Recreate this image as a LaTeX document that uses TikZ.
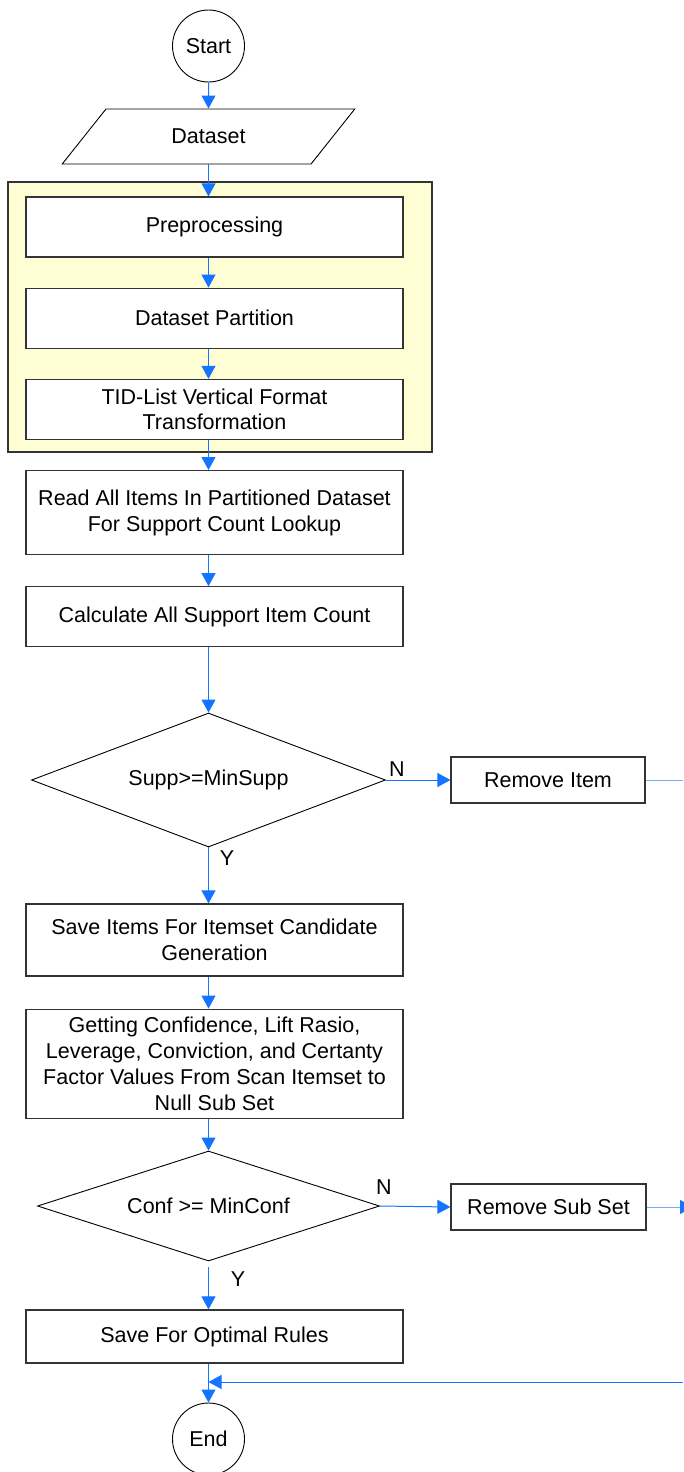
\documentclass[tikz,border=0pt]{standalone}
\usepackage{fontspec}
\setmainfont{Liberation Sans}
\usepackage{xcolor}
\usetikzlibrary{arrows.meta, shapes.geometric, calc, positioning}
\definecolor{flowblue}{RGB}{20,116,255}
\definecolor{flowblue200}{RGB}{120,172,255}
\definecolor{grpyellow}{RGB}{255,253,212}
\definecolor{boxgray}{RGB}{52,52,52}
\tikzset{
  %process box style
  procbox/.style={
    draw=boxgray
    , fill=white
    , line width=1.2pt
    , minimum width=377pt
    , align=center
    , inner sep=2pt
    %, rounded corners
  },
  %start / end
  term/.style={
    circle
    , draw
    , line width=0.9pt
    , minimum size=72pt
    , inner sep=0pt
  },
  decision/.style={
    diamond
    , draw
    , line width=0.9pt
    , inner sep=0pt
  },
}

\begin{document}
\begin{tikzpicture}[x=1pt, y=1pt, font=\fontsize{21.5}{25.8}\selectfont]
  \tikzstyle{io}=[trapezium, draw, line width=0.9pt, trapezium left angle=43.5
                  , trapezium right angle=136.5, trapezium stretches=true
                  , minimum width=293pt, minimum height=55pt, inner sep=0pt]
  \tikzstyle{group}=[draw=boxgray, fill=grpyellow, line width=1.2pt
                     , minimum width=424pt, minimum height=270pt]
  \tikzstyle{flow}=[-{Triangle[length=13pt,width=14pt]}, flowblue, line width=1pt]
  \tikzstyle{lbl}=[inner sep=0pt]
  \useasboundingbox (0,0) rectangle (683,-1472);

  \node [term] (start) at (208.5,-46) {Start};
  \node [io] (data) at (208.5,-136.5) {Dataset};
%
  \node [group] (grp) at (220,-317) {};
  \node [procbox, minimum height=60pt] (prep) at (214.5,-227) {Preprocessing};
  \node [procbox, minimum height=60pt, below=30pt of prep] (part) {Dataset Partition};
  \node [procbox, minimum height=60pt, below=30pt of part] (tid) {TID-List Vertical Format\\Transformation};
%
  \node [procbox, minimum height=84pt, below=30pt of tid] (read) {Read All Items In Partitioned Dataset\\For Support Count Lookup};
  \node [procbox, minimum height=60pt, below=31pt of read] (calc) {Calculate All Support Item Count};
  \node [decision, aspect=2.64, minimum width=354pt, minimum height=134pt] (supp) at (208.5,-780) {Supp>=MinSupp};
  \node [procbox, minimum width=194pt, minimum height=46pt] (rmitem) at (548,-780) {Remove Item};
%
  \node [procbox, minimum height=72pt] (save) at (214.5,-940) {Save Items For Itemset Candidate\\Generation};
  \node [procbox, minimum height=109pt, below=32pt of save] (conf) {Getting Confidence, Lift Rasio,\\Leverage, Conviction, and Certanty\\Factor Values From Scan Itemset to\\Null Sub Set};
  \node [decision, aspect=3.11, minimum width=342pt, minimum height=110pt] (minconf) at (208.5,-1206) {Conf >= MinConf};
  \node [procbox, minimum width=195pt, minimum height=46pt] (rmsub) at (548.5,-1207) {Remove Sub Set};
  \node [procbox, minimum height=53pt] (rules) at (214.5,-1336.5) {Save For Optimal Rules};
  \node [term] (end) at (208.5,-1439) {End};

  \node [lbl] (suppN) at (397,-769) {N};
  \node [lbl] (suppY) at (227,-858) {Y};
  \node [lbl] (confN) at (384,-1187) {N};
  \node [lbl] (confY) at (238,-1279) {Y};

  \coordinate (itemout) at (683,-780);
  \coordinate (subout) at (693,-1207);
  \coordinate (loopin) at (683,-1382);

  \draw [flow] (start) -- (data);
  \draw [flow] (data.south) -- (data.south |- prep.north);
  \draw [flow] (prep.south -| start) -- (part.north -| start);
  \draw [flow] (part.south -| start) -- (tid.north -| start);
  \draw [flow] (tid.south -| start) -- (read.north -| start);
  \draw [flow] (read.south -| start) -- (calc.north -| start);
  \draw [flow] (calc.south -| start) -- (supp.north);

  \draw [flow] (supp.east) -- (rmitem.west);
  \draw [flowblue200, line width=1pt] (rmitem.east) -- (itemout);
  \draw [flow] (supp.south) -- (supp.south |- save.north);

  \draw [flow] (save.south -| start) -- (conf.north -| start);
  \draw [flow] (conf.south -| start) -- (minconf.north);
  \draw [flow] (minconf.east) -- (rmsub.west);
  \draw [-{Triangle[length=13pt,width=14pt,color=flowblue]}, flowblue200, line width=1pt] (rmsub.east) -- (subout);
  \draw [flow, shorten <=6pt] (minconf.south) -- (minconf.south |- rules.north);

  \draw [flow] (rules.south -| start) -- (end.north);
  \draw [flow] (loopin) -- (loopin -| start);

\end{tikzpicture}
\end{document}
